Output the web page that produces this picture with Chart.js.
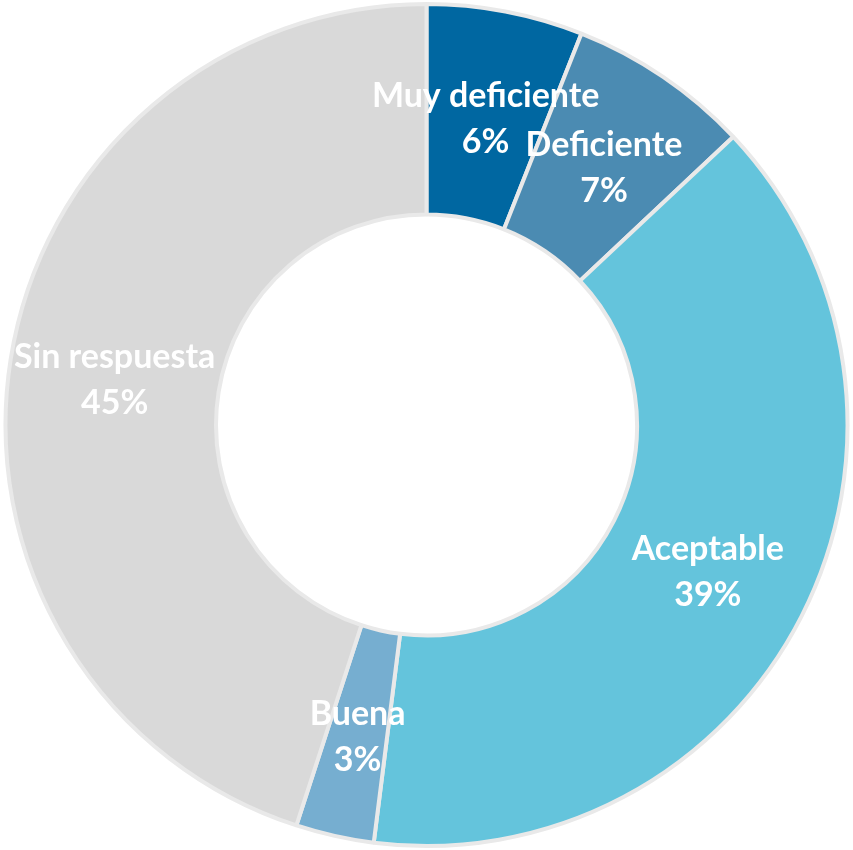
<!DOCTYPE html>
<html>
<head>
<meta charset="utf-8">
<script src="https://cdn.jsdelivr.net/npm/chart.js@4"></script>
<style>
  html, body { margin: 0; padding: 0; background: #ffffff; }
  canvas { display: block; }
</style>
</head>
<body>
<canvas id="myChart" width="853" height="850"></canvas>
<script>
var categories = ["Muy deficiente", "Deficiente", "Aceptable", "Buena", "Sin respuesta"];
var percentages = [6, 7, 39, 3, 45];
var sliceColors = ["#0067A1", "#4B8BB2", "#64C4DC", "#76AED0", "#D9D9D9"];

// draws "name / value%" in white at the middle of each slice
var sliceLabels = {
  id: "sliceLabels",
  afterDatasetsDraw: function (chart) {
    var ctx = chart.ctx;
    var arcs = chart.getDatasetMeta(0).data;
    ctx.save();
    ctx.fillStyle = "#ffffff";
    ctx.textAlign = "center";
    ctx.textBaseline = "middle";
    ctx.font = "bold 34px Lato, 'Open Sans', sans-serif";
    arcs.forEach(function (arc, i) {
      var p = arc.tooltipPosition();
      ctx.fillText(categories[i], p.x, p.y - 19);
      ctx.fillText(percentages[i] + "%", p.x, p.y + 27);
    });
    ctx.restore();
  }
};

var ctx = document.getElementById("myChart").getContext("2d");
var myChart = new Chart(ctx, {
  type: "doughnut",
  data: {
    labels: categories,
    datasets: [
      {
        data: percentages,
        backgroundColor: sliceColors,
        borderColor: "#E9E9E9",
        borderWidth: 4,
      },
    ],
  },
  options: {
    responsive: false,
    animation: false,
    cutout: "50%",
    layout: { padding: 2 },
    plugins: {
      legend: { display: false },
      tooltip: { enabled: false },
    },
  },
  plugins: [sliceLabels],
});
</script>
</body>
</html>
